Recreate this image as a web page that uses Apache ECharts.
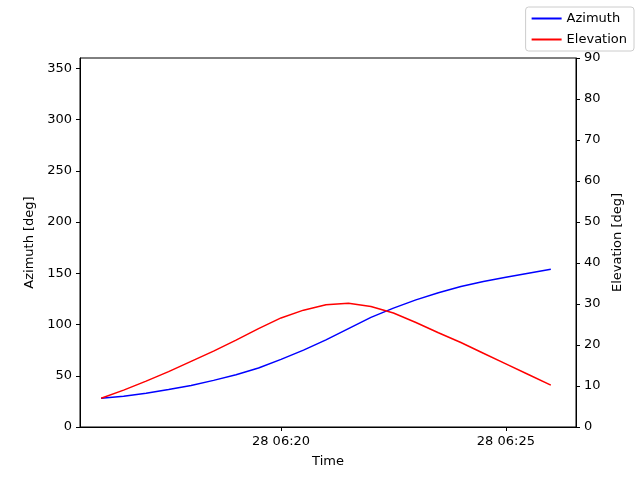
<!DOCTYPE html>
<html><head><meta charset="utf-8">
<script src="https://cdn.jsdelivr.net/npm/echarts@6/dist/echarts.min.js"></script>
<style>html,body{margin:0;padding:0;background:#fff}#c{width:640px;height:480px}</style>
</head><body><div id="c"></div>
<script>
// minutes after 06:00 on the 28th
const minutes = [16,16.5,17,17.5,18,18.5,19,19.5,20,20.5,21,21.5,22,22.5,23,23.5,24,24.5,25,25.5,26];
const azimuth = [28,30,33,36.5,40.5,45.5,51,57.5,66,75,85,96,107,116,124,131,137,142,146,150,154];
const elevation = [7,9,11.2,13.5,16,18.5,21.2,24,26.6,28.5,29.8,30.2,29.4,27.8,25.5,23,20.6,18,15.4,12.8,10.2];
const timeTicks = [20,25];
const tickLabels = ['28 06:20','28 06:25'];

const font = 'DejaVu Sans';
const fs = 13;
const chart = echarts.init(document.getElementById('c'));
const axisCommon = {
  axisLine:{show:true,lineStyle:{color:'#000'}},
  axisTick:{show:true,length:4,inside:false,lineStyle:{color:'#000'}},
  axisLabel:{color:'#000',fontFamily:font,fontSize:fs},
  splitLine:{show:false},
  nameTextStyle:{color:'#000',fontFamily:font,fontSize:fs}
};
chart.setOption({
  animation:false,
  textStyle:{fontFamily:font},
  grid:{left:80,right:64,top:58,bottom:53,show:true,borderColor:'#000',borderWidth:1},
  legend:{right:6,top:7,orient:'vertical',itemWidth:30,itemHeight:2,itemGap:8,
    padding:[5,7,5,6],borderColor:'#ccc',borderWidth:1,borderRadius:3,
    textStyle:{fontFamily:font,fontSize:fs,color:'#000'},
    data:[{name:'Azimuth',icon:'rect'},{name:'Elevation',icon:'rect'}]},
  xAxis:Object.assign({},axisCommon,{type:'value',min:15.53,max:26.56,
    name:'Time',nameLocation:'middle',nameGap:28,
    axisTick:{show:true,length:4,customValues:timeTicks,lineStyle:{color:'#000'}},
    axisLabel:{color:'#000',fontFamily:font,fontSize:fs,customValues:timeTicks,
      formatter:v=>tickLabels[timeTicks.indexOf(v)]||''}}),
  yAxis:[
    Object.assign({},axisCommon,{type:'value',min:0,max:360,interval:50,name:'Azimuth [deg]',nameLocation:'middle',nameGap:44}),
    Object.assign({},axisCommon,{type:'value',min:0,max:90,interval:10,position:'right',name:'Elevation [deg]',nameLocation:'middle',nameGap:34,nameRotate:90})
  ],
  series:[
    {name:'Azimuth',type:'line',yAxisIndex:0,showSymbol:false,data:minutes.map((m,i)=>[m,azimuth[i]]),lineStyle:{color:'#0000ff',width:1.5},itemStyle:{color:'#0000ff'}},
    {name:'Elevation',type:'line',yAxisIndex:1,showSymbol:false,data:minutes.map((m,i)=>[m,elevation[i]]),lineStyle:{color:'#ff0000',width:1.5},itemStyle:{color:'#ff0000'}}
  ]
});
</script></body></html>
